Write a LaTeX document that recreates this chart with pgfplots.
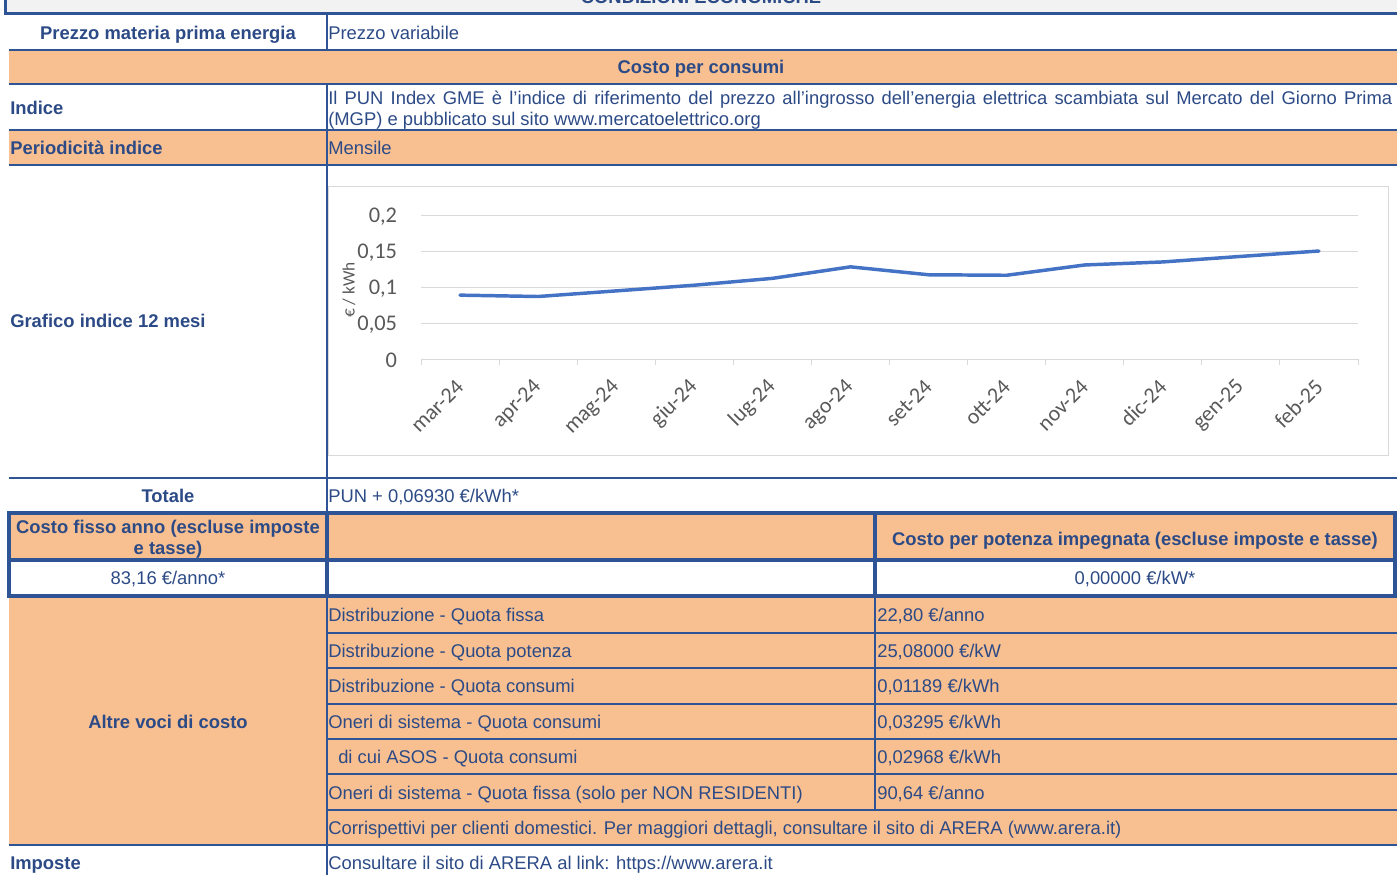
\documentclass[border=0pt]{standalone}
\usepackage{fontspec}
\setmainfont{Liberation Sans}
\newfontfamily\chartfont{Carlito}
\usepackage{pgfplots}
\pgfplotsset{compat=1.18}
\definecolor{navy}{RGB}{47,84,150}
\definecolor{txt}{RGB}{44,74,134}
\definecolor{org}{RGB}{248,192,144}
\definecolor{hdr}{RGB}{242,242,242}
\definecolor{gridc}{RGB}{217,217,217}
\definecolor{tickc}{RGB}{89,89,89}
\definecolor{linec}{RGB}{68,114,196}
\newcommand\tf{\fontsize{13.8}{16}\selectfont\color{txt}}
\newcommand\tb{\fontsize{13.8}{16}\selectfont\bfseries\color{txt}}
\begin{document}
\begin{tikzpicture}
\begin{scope}[x=0.75pt,y=-0.75pt]
\useasboundingbox (0,0) rectangle (1397,875);
% header
\fill[hdr] (5,-20) rectangle (1400,13.5);
\node[anchor=base,inner sep=0pt,font=\tb] at (701,3) {CONDIZIONI ECONOMICHE};
\draw[navy,line width=2.25pt] (5,-20) -- (5,13.5) -- (1400,13.5);
% fills
\fill[org] (9,50) rectangle (1397,84);
\fill[org] (9,130) rectangle (1397,165);
\fill[org] (9,513) rectangle (1395,560);
\fill[org] (9,596) rectangle (1397,845);
% chart box
\draw[gridc,line width=0.75pt] (328,186) rectangle (1388,455);
% thin lines
\foreach \yy in {50,84,130,165,478,845}{\draw[navy,line width=1.5pt] (9,\yy)--(1397,\yy);}
\foreach \yy in {633,668,704,739,774,810}{\draw[navy,line width=1.5pt] (327,\yy)--(1397,\yy);}
\draw[navy,line width=1.5pt] (327,15)--(327,50);
\draw[navy,line width=1.5pt] (327,84)--(327,513);
\draw[navy,line width=1.5pt] (327,596)--(327,875);
\draw[navy,line width=1.5pt] (875,596)--(875,810);
% thick box
\draw[navy,line width=2.4pt] (9,513) rectangle (1395,596);
\draw[navy,line width=2.4pt] (9,560)--(1395,560);
\draw[navy,line width=2.4pt] (327,513)--(327,596);
\draw[navy,line width=2.4pt] (875,513)--(875,596);
% texts
\tikzset{L/.style={anchor=base west,inner sep=0pt,font=\tf},
         B/.style={anchor=base west,inner sep=0pt,font=\tb},
         C/.style={anchor=base,inner sep=0pt,font=\tb},
         CN/.style={anchor=base,inner sep=0pt,font=\tf}}
\node[C] at (168,39) {Prezzo materia prima energia};
\node[L] at (328,39) {Prezzo variabile};
\node[C] at (701,73.5) {Costo per consumi};
\node[B] at (10,114.5) {Indice};
\node[L] at (328,104.5) {\makebox[798pt][s]{Il PUN Index GME è l’indice di riferimento del prezzo all’ingrosso dell’energia elettrica scambiata sul Mercato del Giorno Prima}};
\node[L] at (328,125.5) {(MGP) e pubblicato sul sito www.mercatoelettrico.org};
\node[B] at (10,154) {Periodicità indice};
\node[L] at (328,154) {Mensile};
\node[B] at (10,327.5) {Grafico indice 12 mesi};
\node[C] at (168,502) {Totale};
\node[L] at (328,502) {PUN + 0,06930 €/kWh*};
\node[C] at (168,533.5) {Costo fisso anno (escluse imposte};
\node[C] at (168,554.5) {e tasse)};
\node[C] at (1135,545.5) {Costo per potenza impegnata (escluse imposte e tasse)};
\node[CN] at (168,584.5) {83,16 €/anno*};
\node[CN] at (1135,584.5) {0,00000 €/kW*};
\node[C] at (168,728.5) {Altre voci di costo};
\node[L] at (328,621.5) {Distribuzione - Quota fissa};
\node[L] at (877,621.5) {22,80 €/anno};
\node[L] at (328,657.5) {Distribuzione - Quota potenza};
\node[L] at (877,657.5) {25,08000 €/kW};
\node[L] at (328,692.5) {Distribuzione - Quota consumi};
\node[L] at (877,692.5) {0,01189 €/kWh};
\node[L] at (328,728.5) {Oneri di sistema - Quota consumi};
\node[L] at (877,728.5) {0,03295 €/kWh};
\node[L] at (338,763.5) {di cui ASOS - Quota consumi};
\node[L] at (877,763.5) {0,02968 €/kWh};
\node[L] at (328,799.5) {Oneri di sistema - Quota fissa (solo per NON RESIDENTI)};
\node[L] at (877,799.5) {90,64 €/anno};
\node[L] at (328,834.5) {Corrispettivi per clienti domestici. Per maggiori dettagli, consultare il sito di ARERA (www.arera.it)};
\node[B] at (10,869.5) {Imposte};
\node[L] at (328,869.5) {Consultare il sito di ARERA al link: https://www.arera.it};
\end{scope}
\begin{axis}[
  at={(315.75pt,-269.25pt)}, anchor=south west,
  scale only axis, width=702.75pt, height=108pt,
  xmin=-0.5, xmax=11.5, ymin=0, ymax=0.2,
  axis line style={draw=none},
  xtick={0,...,11},
  xticklabels={mar-24,apr-24,mag-24,giu-24,lug-24,ago-24,set-24,ott-24,nov-24,dic-24,gen-25,feb-25},
  major x tick style={draw=none},
  minor xtick={-0.5,0.5,...,11.5},
  minor x tick style={gridc,line width=0.75pt},
  minor tick length=4.5pt,
  tick align=outside, xtick pos=bottom, ytick pos=left,
  ytick={0,0.05,0.1,0.15,0.2},
  yticklabels={0,{0,05},{0,1},{0,15},{0,2}},
  major y tick style={draw=none},
  ymajorgrids, major grid style={gridc,line width=0.75pt},
  yticklabel style={font=\chartfont\fontsize{16.8}{18}\selectfont,color=tickc,anchor=east,inner sep=0pt,xshift=-13.5pt,yshift=-1pt},
  xticklabel style={font=\chartfont\fontsize{16.5}{18}\selectfont,color=tickc,inner sep=0pt,anchor=east,yshift=-14pt,rotate=45},
  ylabel={€ / kWh},
  ylabel style={font=\chartfont\fontsize{13}{15}\selectfont,color=tickc,at={(rel axis cs:-0.077,0.48)},anchor=center,rotate=0},
  clip=false,
]
\addplot[linec,line width=2.6pt,line join=round,line cap=round] coordinates {
(0,0.0887) (1,0.0868) (2,0.0946) (3,0.1025) (4,0.1120) (5,0.1280)
(6,0.1170) (7,0.1163) (8,0.1306) (9,0.1348) (10,0.1425) (11,0.1500)};
\end{axis}
\end{tikzpicture}
\end{document}
